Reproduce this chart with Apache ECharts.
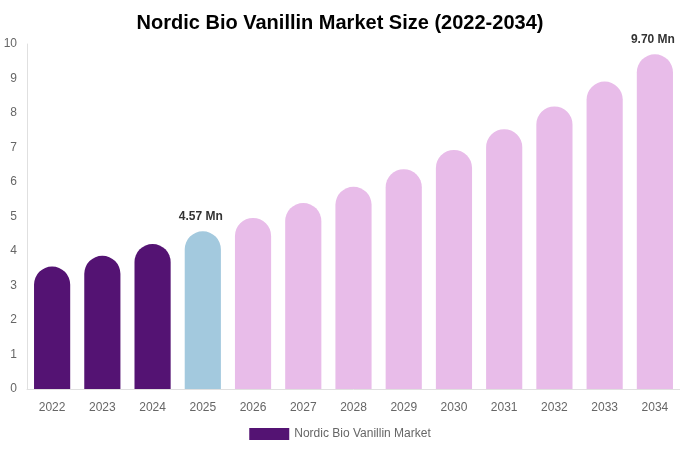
<!DOCTYPE html>
<html>
<head>
<meta charset="UTF-8">
<script src="https://cdn.jsdelivr.net/npm/echarts@6/dist/echarts.min.js"></script>
<style>
    html, body { margin: 0; padding: 0; background: #fff; }
    #chart { width: 680px; height: 450px; }
</style>
</head>
<body>
<div id="chart"></div>
<script type="text/javascript">
    var years = ['2022', '2023', '2024', '2025', '2026', '2027', '2028', '2029', '2030', '2031', '2032', '2033', '2034'];
    var marketSize = [3.55, 3.86, 4.20, 4.57, 4.96, 5.39, 5.86, 6.37, 6.93, 7.53, 8.19, 8.91, 9.70];
    var labelledYears = ['2025', '2034'];
    var yTicks = [0, 1, 2, 3, 4, 5, 6, 7, 8, 9, 10];

    var colorPast = '#541373';
    var colorNow = '#a3c9de';
    var colorFuture = '#e8bce9';

    var chart = echarts.init(document.getElementById('chart'));

    //每根柱子按年份着色，只在指定年份显示数值
    var barData = years.map(function (y, i) {
        var c = colorFuture;
        if (i < 3) c = colorPast;
        else if (y === '2025') c = colorNow;
        return {
            value: marketSize[i],
            itemStyle: { color: c },
            label: { show: labelledYears.indexOf(y) >= 0 }
        };
    });

    var option = {
        animation: false,
        title: {
            text: 'Nordic Bio Vanillin Market Size (2022-2034)',
            left: 'center',
            top: 8,
            textStyle: { fontFamily: 'Liberation Sans', fontSize: 20, fontWeight: 'bold', color: '#000' }
        },
        legend: {
            bottom: 5,
            left: 'center',
            itemWidth: 40,
            itemHeight: 12,
            icon: 'rect',
            textStyle: { fontFamily: 'Liberation Sans', fontSize: 12, color: '#666' },
            data: [{ name: 'Nordic Bio Vanillin Market', itemStyle: { color: colorPast } }]
        },
        grid: { left: 27, right: 0, top: 44, bottom: 61, containLabel: false },
        xAxis: {
            type: 'category',
            data: years,
            axisLine: { show: true, lineStyle: { color: '#e0e0e0' } },
            axisTick: { show: false },
            axisLabel: { fontFamily: 'Liberation Sans', fontSize: 12, color: '#666', margin: 13 }
        },
        yAxis: {
            type: 'value',
            min: yTicks[0],
            max: yTicks[yTicks.length - 1],
            interval: 1,
            axisLine: { show: true, lineStyle: { color: '#e0e0e0' } },
            axisTick: { show: false },
            splitLine: { show: false },
            axisLabel: { fontFamily: 'Liberation Sans', fontSize: 12, color: '#666', margin: 10 }
        },
        series: [{
            name: 'Nordic Bio Vanillin Market',
            type: 'bar',
            data: barData,
            barWidth: '72%',
            itemStyle: { borderRadius: [18, 18, 0, 0] },
            label: {
                position: 'top',
                distance: 9,
                offset: [-2, 0],
                formatter: function (p) { return p.value.toFixed(2) + ' Mn'; },
                fontFamily: 'Liberation Sans',
                fontSize: 12,
                fontWeight: 'bold',
                color: '#333'
            }
        }]
    };

    chart.setOption(option);
</script>
</body>
</html>
